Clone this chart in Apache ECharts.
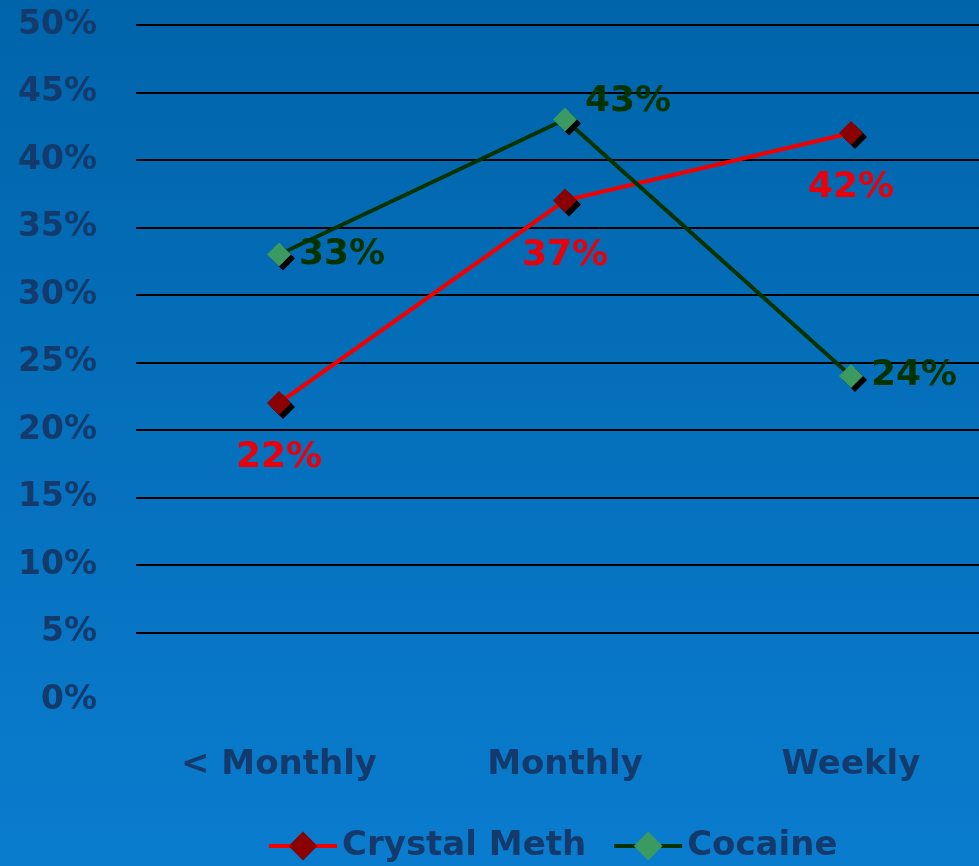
<!DOCTYPE html>
<html>
<head>
<meta charset="utf-8">
<script src="https://cdn.jsdelivr.net/npm/echarts@6/dist/echarts.min.js"></script>
<style>
html,body{margin:0;padding:0;}
#main{width:979px;height:866px;}
</style>
</head>
<body>
<div id="main"></div>
<script>
// 数据
var categories=['< Monthly','Monthly','Weekly'];
var crystalMeth=[22,37,42];
var cocaine=[33,43,24];
var yTicks=[0,5,10,15,20,25,30,35,40,45,50];

var textColor='#143a6c';
var fontFamily='"DejaVu Sans", sans-serif';
// 正方形菱形
var diamond='path://M0,-1L1,0L0,1L-1,0Z';

var yMin=yTicks[0],yMax=yTicks[yTicks.length-1];

var chart=echarts.init(document.getElementById('main'));
var option={
	backgroundColor:{
		type:'linear',x:0,y:0,x2:0,y2:1,
		colorStops:[{offset:0,color:'#0064aa'},{offset:1,color:'#0a7cce'}]
	},
	// grid0: 网格线和y轴标签; grid1: 数据
	grid:[
		{left:136,top:25,right:0,bottom:166},
		{left:279,top:25,right:128,bottom:166}
	],
	legend:{
		left:262,
		bottom:-2,
		itemWidth:68,
		itemHeight:36,
		itemGap:26,
		lineStyle:{width:4},
		textStyle:{
			color:textColor,
			fontSize:34,
			fontWeight:'bold',
			fontFamily:fontFamily
		},
		data:['Crystal Meth','Cocaine']
	},
	xAxis:[{
		gridIndex:0,
		type:'category',
		data:categories,
		show:false
	},{
		gridIndex:1,
		type:'category',
		data:categories,
		boundaryGap:false,
		axisLine:{show:false},
		axisTick:{show:false},
		axisLabel:{
			color:textColor,
			fontSize:34,
			fontWeight:'bold',
			fontFamily:fontFamily,
			margin:48
		}
	}],
	yAxis:[{
		gridIndex:0,
		type:'value',
		min:yMin,
		max:yMax,
		interval:5,
		axisLine:{show:false},
		axisTick:{show:false},
		axisLabel:{
			color:textColor,
			fontSize:33,
			fontWeight:'bold',
			fontFamily:fontFamily,
			margin:39,
			formatter:'{value}%'
		},
		splitLine:{
			lineStyle:{
				color:'#000',
				width:2
			},
			showMinLine:false
		}
	},{
		gridIndex:1,
		type:'value',
		min:yMin,
		max:yMax,
		interval:5,
		show:false,
		splitLine:{show:false}
	}],
	series:[{
		name:'Crystal Meth',
		type:'line',
		xAxisIndex:1,
		yAxisIndex:1,
		data:crystalMeth,
		symbol:diamond,
		symbolSize:24,
		lineStyle:{color:'#f00000',width:4},
		itemStyle:{
			color:'#8b0000',
			shadowColor:'#000',
			shadowOffsetX:4,
			shadowOffsetY:4,
			shadowBlur:0
		},
		label:{
			show:true,
			position:'bottom',
			distance:25,
			formatter:'{c}%',
			color:'#e8000a',
			fontSize:36,
			fontWeight:'bold',
			fontFamily:fontFamily
		}
	},{
		name:'Cocaine',
		type:'line',
		xAxisIndex:1,
		yAxisIndex:1,
		data:cocaine.map(function(v,i){
			return i===1?{value:v,label:{offset:[0,-18]}}:v;
		}),
		symbol:diamond,
		symbolSize:24,
		lineStyle:{color:'#003300',width:4},
		itemStyle:{
			color:'#3a9a62',
			shadowColor:'#000',
			shadowOffsetX:4,
			shadowOffsetY:4,
			shadowBlur:0
		},
		label:{
			show:true,
			position:'right',
			distance:8,
			formatter:'{c}%',
			color:'#003300',
			fontSize:36,
			fontWeight:'bold',
			fontFamily:fontFamily
		}
	}]
};
chart.setOption(option);
</script>
</body>
</html>
